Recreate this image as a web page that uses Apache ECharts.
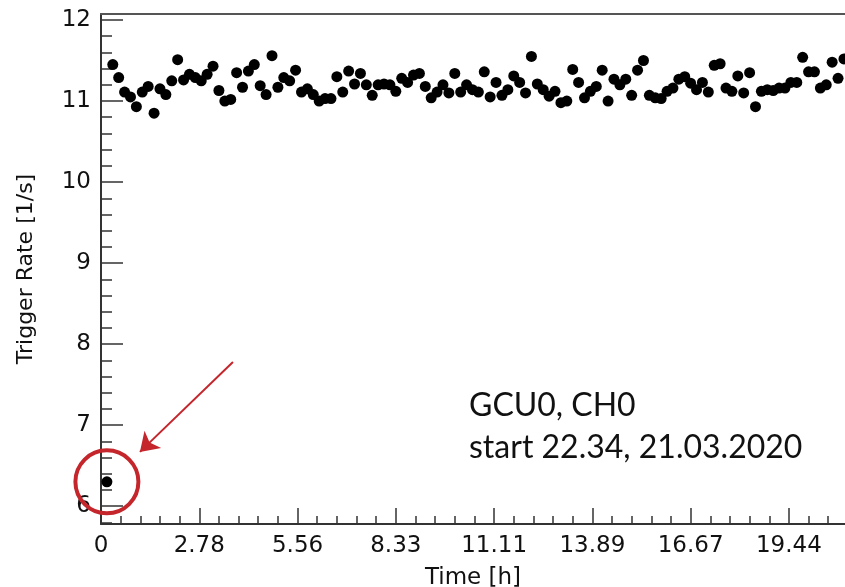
<!DOCTYPE html>
<html>
<head>
<meta charset="utf-8">
<script src="https://cdn.jsdelivr.net/npm/echarts@6/dist/echarts.min.js"></script>
<style>
  html, body { margin: 0; padding: 0; background: #fff; }
  #chart { width: 845px; height: 587px; }
</style>
</head>
<body>
<div id="chart"></div>
<script>
// one reading every 10 min, first one is the outlier right after start
const sampleStepH = 10 / 60
const rates = [
  6.30,
  11.45, 11.29, 11.11, 11.05, 10.93, 11.11, 11.18, 10.85, 11.15, 11.08, 11.25, 11.51,
  11.26, 11.33, 11.29, 11.25, 11.33, 11.43, 11.13, 11.00, 11.02, 11.35, 11.17, 11.37,
  11.45, 11.19, 11.08, 11.56, 11.17, 11.29, 11.25, 11.38, 11.11, 11.15, 11.08, 11.00, 11.03,
  11.03, 11.30, 11.11, 11.37, 11.21, 11.34, 11.20, 11.07, 11.20, 11.21, 11.20, 11.12,
  11.28, 11.23, 11.32, 11.34, 11.18, 11.04, 11.11, 11.20, 11.10, 11.34, 11.11, 11.20, 11.14,
  11.11, 11.36, 11.05, 11.23, 11.07, 11.14, 11.31, 11.23, 11.10, 11.55, 11.21, 11.14, 11.06,
  11.12, 10.98, 11.00, 11.39, 11.23, 11.04, 11.12, 11.18, 11.38, 11.00, 11.27, 11.20, 11.27,
  11.07, 11.38, 11.50, 11.07, 11.04, 11.03, 11.12, 11.16, 11.27, 11.30, 11.22, 11.14,
  11.23, 11.11, 11.44, 11.46, 11.16, 11.12, 11.31, 11.10, 11.35, 10.93, 11.12, 11.14, 11.13,
  11.16, 11.16, 11.23, 11.23, 11.54, 11.36, 11.36, 11.16, 11.20, 11.48, 11.28, 11.52
]

// x ticks every 10000 s
const xMajorStepH = 10000 / 3600
const xTickLabels = ['0', '2.78', '5.56', '8.33', '11.11', '13.89', '16.67', '19.44']
const yTickValues = [6, 7, 8, 9, 10, 11, 12]

const xMin = 0
const xMax = 21.03
const yMin = 5.78
const yMax = 12.074

const noteLines = ['GCU0, CH0', 'start 22.34, 21.03.2020']
const arrowFrom = [3.73, 7.78]
const arrowTo = [1.1, 6.67]

const points = rates.map((r, i) => [(i + 1) * sampleStepH, r])

const xMajor = xTickLabels.map((l, i) => i * xMajorStepH)
const xMinor = []
for (let k = 1; k * xMajorStepH / 5 < xMax; k++) {
  if (k % 5 !== 0) xMinor.push(k * xMajorStepH / 5)
}
const yMinor = []
for (let k = 29; k * 0.2 < yMax; k++) {
  if (k % 5 !== 0) yMinor.push(+(k * 0.2).toFixed(1))
}

const axisColor = '#333'
const labelFont = { fontFamily: 'DejaVu Sans', fontSize: 23, color: '#111' }
const red = '#c4262c'

const chart = echarts.init(document.getElementById('chart'))

const option = {
  animation: false,
  grid: { left: 101, right: 0, top: 14, bottom: 63, outerBoundsMode: 'none' },
  xAxis: [
    {
      type: 'value',
      position: 'bottom',
      min: xMin,
      max: xMax,
      name: 'Time [h]',
      nameLocation: 'middle',
      nameGap: 43,
      nameTextStyle: labelFont,
      axisLine: { lineStyle: { color: axisColor, width: 2 } },
      axisTick: {
        inside: true,
        length: 16,
        customValues: xMajor,
        lineStyle: { color: axisColor, width: 1.5 }
      },
      axisLabel: {
        ...labelFont,
        margin: 11,
        customValues: xMajor,
        formatter: (v) => xTickLabels[Math.round(v / xMajorStepH)]
      },
      splitLine: { show: false }
    },
    {
      type: 'value',
      position: 'bottom',
      min: xMin,
      max: xMax,
      axisLine: { show: false },
      axisTick: {
        inside: true,
        length: 8,
        customValues: xMinor,
        lineStyle: { color: axisColor, width: 1.5 }
      },
      axisLabel: { show: false },
      splitLine: { show: false }
    },
    {
      type: 'value',
      position: 'top',
      min: xMin,
      max: xMax,
      axisLine: { lineStyle: { color: '#555', width: 2 } },
      axisTick: { show: false },
      axisLabel: { show: false },
      splitLine: { show: false }
    }
  ],
  yAxis: [
    {
      type: 'value',
      position: 'left',
      min: yMin,
      max: yMax,
      name: 'Trigger Rate [1/s]',
      nameLocation: 'middle',
      nameGap: 64,
      nameTextStyle: { ...labelFont, fontSize: 22 },
      axisLine: { lineStyle: { color: axisColor, width: 2 } },
      axisTick: {
        inside: true,
        length: 22,
        customValues: yTickValues,
        lineStyle: { color: axisColor, width: 1.5 }
      },
      axisLabel: {
        ...labelFont,
        margin: 10,
        customValues: yTickValues
      },
      splitLine: { show: false }
    },
    {
      type: 'value',
      position: 'left',
      min: yMin,
      max: yMax,
      axisLine: { show: false },
      axisTick: {
        inside: true,
        length: 11,
        customValues: yMinor,
        lineStyle: { color: axisColor, width: 1.5 }
      },
      axisLabel: { show: false },
      splitLine: { show: false }
    }
  ],
  series: [
    {
      type: 'scatter',
      xAxisIndex: 0,
      yAxisIndex: 0,
      data: points,
      symbol: 'circle',
      symbolSize: 11,
      itemStyle: { color: '#000', opacity: 1 },
      markPoint: {
        silent: true,
        symbol: 'circle',
        symbolSize: 63,
        itemStyle: { color: 'rgba(0,0,0,0)', borderColor: red, borderWidth: 4 },
        label: { show: false },
        data: [{ coord: points[0] }]
      },
      markLine: {
        silent: true,
        symbol: ['none', 'arrow'],
        symbolSize: 18,
        lineStyle: { color: red, width: 2, type: 'solid' },
        label: { show: false },
        data: [[{ coord: arrowFrom }, { coord: arrowTo }]]
      }
    }
  ],
  graphic: [
    {
      type: 'text',
      left: 469,
      top: 385,
      style: {
        text: noteLines.join('\n'),
        fontFamily: 'Lato',
        fontSize: 32,
        lineHeight: 42,
        fill: '#111'
      }
    }
  ]
}

chart.setOption(option)

window.addEventListener('resize', () => {
  chart.resize()
})
</script>
</body>
</html>
